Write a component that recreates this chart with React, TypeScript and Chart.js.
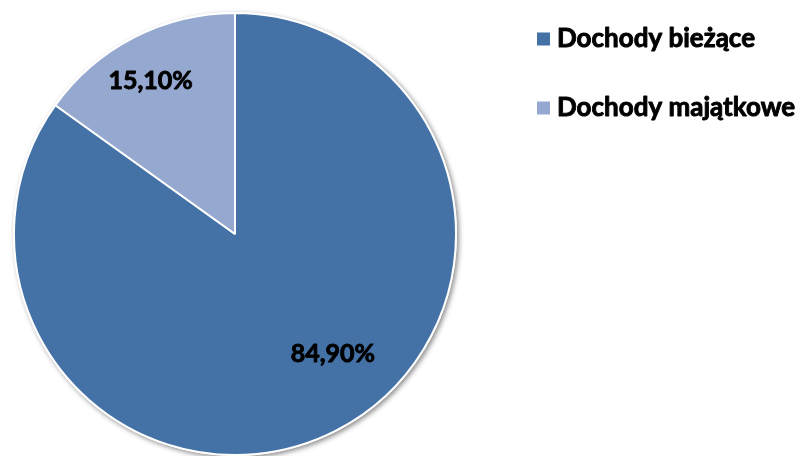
import React, { useEffect, useRef } from "react";
import { Chart, registerables } from "chart.js";

Chart.register(...registerables);

const categories = ["Dochody bieżące", "Dochody majątkowe"];
const values = [84.9, 15.1];
const valueLabels = ["84,90%", "15,10%"];
const colors = ["#4472A7", "#95A9D0"];

const FONT = "Lato";
const labelPlacement = [
  { frac: 0.7, angleShift: -0.21 },
  { frac: 0.79, angleShift: -0.03 },
];

function heavyText(ctx: CanvasRenderingContext2D, text: string, x: number, y: number) {
  ctx.fillText(text, x, y);
  ctx.lineWidth = 0.9;
  ctx.strokeStyle = ctx.fillStyle as string;
  ctx.lineJoin = "round";
  ctx.strokeText(text, x, y);
}

const shadowPlugin = {
  id: "pieShadow",
  beforeDatasetsDraw(chart: any) {
    const meta = chart.getDatasetMeta(0);
    const arc = meta.data[0];
    if (!arc) return;
    const { ctx } = chart;
    const { x, y, outerRadius } = arc.getProps(["x", "y", "outerRadius"], true);
    ctx.save();
    ctx.shadowColor = "rgba(0,0,0,0.45)";
    ctx.shadowBlur = 5;
    ctx.shadowOffsetX = 2;
    ctx.shadowOffsetY = 2;
    ctx.beginPath();
    ctx.arc(x, y, outerRadius + 1, 0, Math.PI * 2);
    ctx.fillStyle = "#ffffff";
    ctx.fill();
    ctx.restore();
  },
};

const labelPlugin = {
  id: "sliceLabels",
  afterDatasetsDraw(chart: any) {
    const meta = chart.getDatasetMeta(0);
    const { ctx } = chart;
    ctx.save();
    ctx.font = `bold 25px ${FONT}`;
    ctx.fillStyle = "#000000";
    ctx.textAlign = "center";
    ctx.textBaseline = "middle";
    meta.data.forEach((arc: any, i: number) => {
      const { x, y, startAngle, endAngle, outerRadius } = arc.getProps(
        ["x", "y", "startAngle", "endAngle", "outerRadius"],
        true
      );
      const p = labelPlacement[i];
      const mid = (startAngle + endAngle) / 2 + p.angleShift;
      const r = outerRadius * p.frac;
      heavyText(ctx, valueLabels[i], x + Math.cos(mid) * r, y + Math.sin(mid) * r);
    });
    ctx.restore();
  },
};

const legendPlugin = {
  id: "customLegend",
  afterDraw(chart: any) {
    const { ctx } = chart;
    ctx.save();
    ctx.font = `bold 26px ${FONT}`;
    ctx.textBaseline = "middle";
    ctx.textAlign = "left";
    const left = chart.chartArea.right + 80;
    categories.forEach((c, i) => {
      const cy = 39 + i * 69;
      ctx.fillStyle = colors[i];
      ctx.fillRect(left, cy - 6.5, 13, 13);
      ctx.fillStyle = "#000000";
      heavyText(ctx, c, left + 20, cy);
    });
    ctx.restore();
  },
};

export default function App() {
  const ref = useRef<HTMLCanvasElement>(null);
  useEffect(() => {
    document.body.style.margin = "0";
    if (!ref.current) return;
    const chart = new Chart(ref.current, {
      type: "pie",
      data: {
        labels: categories,
        datasets: [
          {
            data: values,
            backgroundColor: colors,
            borderColor: "#ffffff",
            borderWidth: 2,
          },
        ],
      },
      options: {
        animation: false,
        responsive: false,
        layout: { padding: { left: 13, top: 12, right: 345, bottom: 0 } },
        plugins: {
          legend: { display: false },
          tooltip: { enabled: false },
        },
      },
      plugins: [shadowPlugin, labelPlugin, legendPlugin],
    });
    return () => chart.destroy();
  }, []);
  return (
    <div style={{ width: 802, height: 456, background: "#ffffff" }}>
      <canvas ref={ref} width={802} height={456} style={{ display: "block" }} />
    </div>
  );
}
